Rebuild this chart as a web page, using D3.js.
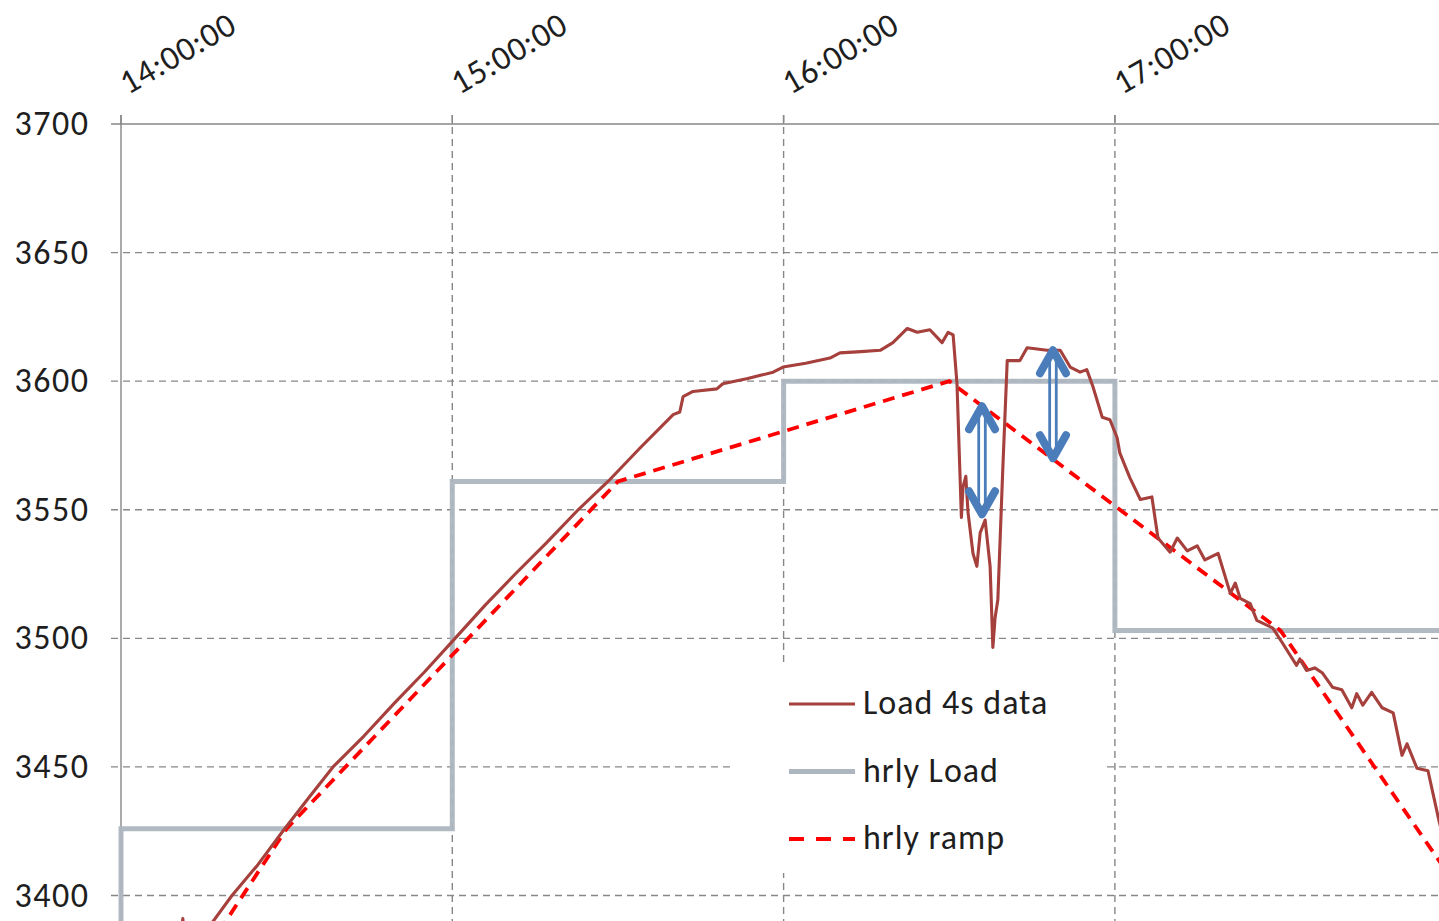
<!DOCTYPE html>
<html>
<head>
<meta charset="utf-8">
<script src="https://cdn.jsdelivr.net/npm/d3@7"></script>
<style>
  html, body { margin: 0; padding: 0; background: #fff; }
  svg { display: block; }
  text { font-family: Carlito, Lato, "Open Sans", sans-serif; fill: #1e1e1e; }
</style>
</head>
<body>
<svg id="chart" width="1439" height="921"></svg>
<script>
// ---------------- data ----------------
const xTickLabels = ["14:00:00", "15:00:00", "16:00:00", "17:00:00"];
const yTickValues = [3400, 3450, 3500, 3550, 3600, 3650, 3700];

// hourly load (step, value holds for the hour starting at the given time)
const hourTimes  = ["13:00", "14:00", "15:00", "16:00", "17:00", "18:00"];
const hourlyLoad = [3230, 3426, 3561, 3600, 3503, 3316];

// hourly ramp (vertices at the half hours)
const rampTimes  = ["13:30", "14:30", "15:30", "16:30", "17:30", "18:30"];
const rampValues = [3230, 3426, 3561, 3600, 3503, 3316];

// Load 4s data (minutes after 14:00, MW)
const loadMinutes = [10.0, 11.2, 11.7, 16.7, 20.1, 24.8, 29.3, 34.0, 38.4, 44.0, 49.6, 55.0,
  60.5, 66.0, 71.4, 77.0, 82.8, 88.2, 94.0, 100.0, 101.2, 101.8, 103.6, 107.9, 109.0, 113.5,
  118.1, 119.9, 124.0, 128.4, 130.2, 134.0, 137.5, 139.8, 142.4, 144.2, 146.5, 148.7, 149.8,
  150.7, 151.4, 152.0, 152.2, 152.5, 153.0, 153.4, 154.3, 155.0, 155.6, 156.5, 157.4, 157.9,
  158.3, 158.8, 159.7, 160.5, 161.5, 162.8, 164.1, 167.7, 170.1, 171.9, 173.7, 174.9, 176.0,
  177.7, 179.1, 180.4, 180.9, 182.7, 184.6, 186.7, 187.8, 190.0, 191.3, 193.1, 194.9, 196.3,
  198.7, 200.9, 201.8, 202.7, 204.5, 205.7, 208.6, 210.4, 212.9, 213.5, 214.7, 216.2, 217.6,
  219.4, 221.1, 222.9, 223.8, 224.9, 226.5, 228.4, 230.4, 232.0, 232.9, 234.7, 236.7, 238.7, 239.8];
const loadValues = [3370, 3391, 3374, 3390, 3400, 3412, 3425, 3438, 3450, 3462, 3475, 3487,
  3500, 3513, 3525, 3537, 3550, 3561, 3574, 3587, 3588, 3594, 3596, 3597, 3599, 3601,
  3603.5, 3605.5, 3607, 3609, 3611, 3611.5, 3612, 3615, 3620.5, 3619, 3620, 3615, 3619,
  3618, 3599, 3560, 3547, 3559, 3563, 3549, 3533, 3528, 3541, 3546, 3528, 3496.5,
  3508, 3515, 3566, 3608, 3608, 3608, 3613, 3612, 3612, 3605.5, 3603.5, 3604.5, 3598,
  3586, 3585, 3578, 3572, 3562.5, 3554, 3555, 3539, 3533.5, 3539, 3534, 3536, 3530.5,
  3533, 3517.5, 3521.5, 3515.5, 3513.5, 3507, 3504, 3498, 3489.5, 3492, 3487.5, 3488.5, 3486.5,
  3481, 3480, 3473, 3478.5, 3474, 3479, 3473, 3471, 3454.5, 3459, 3449.5, 3448.5, 3429, 3420];

// annotation arrows: time, top value, bottom value
const arrowTimes  = ["16:35:56", "16:48:47"];
const arrowTops   = [3591.8, 3613.6];
const arrowBottoms = [3546.7, 3568.5];

const legendLabels = ["Load 4s data", "hrly Load", "hrly ramp"];

// ---------------- helpers ----------------
const baseDate = [2013, 0, 15];
function parseHMS(s) {
  const p = s.split(":").map(Number);
  return new Date(baseDate[0], baseDate[1], baseDate[2], p[0], p[1] || 0, p[2] || 0);
}
function fromMinutes(m) {
  return new Date(new Date(baseDate[0], baseDate[1], baseDate[2], 14, 0, 0).getTime() + m * 60000);
}

// ---------------- layout ----------------
const svg = d3.select("#chart");
const W = 1439, H = 921;
const plotLeft = 121, plotTop = 124;
const pxPerHour = 331.3;

const x = d3.scaleTime()
  .domain([parseHMS("14:00"), parseHMS("18:00")])
  .range([plotLeft, plotLeft + 4 * pxPerHour]);
const y = d3.scaleLinear().domain([3400, 3700]).range([895.5, plotTop]);

const gridColor = "#878787";

// horizontal gridlines
const hTicks = yTickValues.filter(v => v !== 3700);
svg.append("g").selectAll("line").data(hTicks).join("line")
  .attr("x1", plotLeft - 10).attr("x2", W)
  .attr("y1", d => y(d)).attr("y2", d => y(d))
  .attr("stroke", gridColor).attr("stroke-width", 1.4)
  .attr("stroke-dasharray", "7,5");

// vertical gridlines
const hourTicks = xTickLabels.map(parseHMS);
svg.append("g").selectAll("line").data(hourTicks.slice(1)).join("line")
  .attr("x1", d => x(d)).attr("x2", d => x(d))
  .attr("y1", plotTop - 9).attr("y2", H)
  .attr("stroke", gridColor).attr("stroke-width", 1.4)
  .attr("stroke-dasharray", "7,5");

// top axis line (3700) and y-axis line
svg.append("line").attr("x1", plotLeft - 10).attr("x2", W)
  .attr("y1", y(3700)).attr("y2", y(3700))
  .attr("stroke", gridColor).attr("stroke-width", 1.4);
svg.append("line").attr("x1", x(hourTicks[0])).attr("x2", x(hourTicks[0]))
  .attr("y1", plotTop - 9).attr("y2", H)
  .attr("stroke", gridColor).attr("stroke-width", 1.4);
// small solid ticks above the top axis
svg.append("g").selectAll("line").data(hourTicks).join("line")
  .attr("x1", d => x(d)).attr("x2", d => x(d))
  .attr("y1", plotTop - 9).attr("y2", plotTop)
  .attr("stroke", gridColor).attr("stroke-width", 1.4);

// y tick labels
svg.append("g").selectAll("text").data(yTickValues).join("text")
  .attr("x", 89.5).attr("y", d => y(d) + 3)
  .attr("text-anchor", "end").attr("dominant-baseline", "middle")
  .attr("font-size", 34).attr("letter-spacing", 1.5)
  .text(d => d);

// x tick labels (rotated)
svg.append("g").selectAll("text").data(hourTicks).join("text")
  .attr("transform", (d) => `translate(${x(d) + 7},95) rotate(-30)`)
  .attr("text-anchor", "start")
  .attr("font-size", 34).attr("letter-spacing", 0.8)
  .text((d, i) => xTickLabels[i]);

// hourly load step line
const hourly = hourTimes.map((t, i) => ({ t: parseHMS(t), v: hourlyLoad[i] }));
svg.append("path").datum(hourly)
  .attr("d", d3.line().x(d => x(d.t)).y(d => y(d.v)).curve(d3.curveStepAfter))
  .attr("fill", "none").attr("stroke", "#adb5bf").attr("stroke-width", 5)
  .attr("stroke-opacity", 0.95);

// hourly ramp
const ramp = rampTimes.map((t, i) => ({ t: parseHMS(t), v: rampValues[i] }));
svg.append("path").datum(ramp)
  .attr("d", d3.line().x(d => x(d.t)).y(d => y(d.v)))
  .attr("fill", "none").attr("stroke", "#ff0000").attr("stroke-width", 3.8)
  .attr("stroke-dasharray", "12,8");

// load 4s data
const load = loadMinutes.map((m, i) => ({ t: fromMinutes(m), v: loadValues[i] }));
svg.append("path").datum(load)
  .attr("d", d3.line().x(d => x(d.t)).y(d => y(d.v)))
  .attr("fill", "none").attr("stroke", "#a5403c").attr("stroke-width", 3.1)
  .attr("stroke-linejoin", "round");

// annotation double arrows
const arrowColor = "#4a7dba";
const arrows = arrowTimes.map((t, i) => ({ x: x(parseHMS(t)), y1: y(arrowTops[i]), y2: y(arrowBottoms[i]) }));
const ag = svg.append("g");
arrows.forEach(a => {
  [-3.3, 3.3].forEach(off => {
    ag.append("line").attr("x1", a.x + off).attr("x2", a.x + off)
      .attr("y1", a.y1 + 6).attr("y2", a.y2 - 6)
      .attr("stroke", arrowColor).attr("stroke-width", 2.8);
  });
  ag.append("path")
    .attr("d", `M${a.x - 13},${a.y1 + 27} L${a.x},${a.y1 + 4} L${a.x + 13},${a.y1 + 27}`)
    .attr("fill", "none").attr("stroke", arrowColor).attr("stroke-width", 8)
    .attr("stroke-linecap", "round").attr("stroke-linejoin", "round");
  ag.append("path")
    .attr("d", `M${a.x - 13},${a.y2 - 27} L${a.x},${a.y2 - 4} L${a.x + 13},${a.y2 - 27}`)
    .attr("fill", "none").attr("stroke", arrowColor).attr("stroke-width", 8)
    .attr("stroke-linecap", "round").attr("stroke-linejoin", "round");
});

// legend
const lg = svg.append("g");
lg.append("rect").attr("x", 731).attr("y", 667).attr("width", 373).attr("height", 206)
  .attr("fill", "#fff");
const legendStyles = [
  { stroke: "#a5403c", width: 3.1, dash: null },
  { stroke: "#adb5bf", width: 5, dash: null },
  { stroke: "#ff0000", width: 3.8, dash: "15,12" }
];
legendLabels.forEach((lab, i) => {
  const cy = 704 + i * 67.5;
  const s = legendStyles[i];
  const ln = lg.append("line").attr("x1", 789).attr("x2", 855).attr("y1", cy).attr("y2", cy)
    .attr("stroke", s.stroke).attr("stroke-width", s.width);
  if (s.dash) ln.attr("stroke-dasharray", s.dash);
  lg.append("text").attr("x", 863).attr("y", cy + 2)
    .attr("dominant-baseline", "middle").attr("font-size", 34).attr("letter-spacing", 1)
    .text(lab);
});
</script>
</body>
</html>
